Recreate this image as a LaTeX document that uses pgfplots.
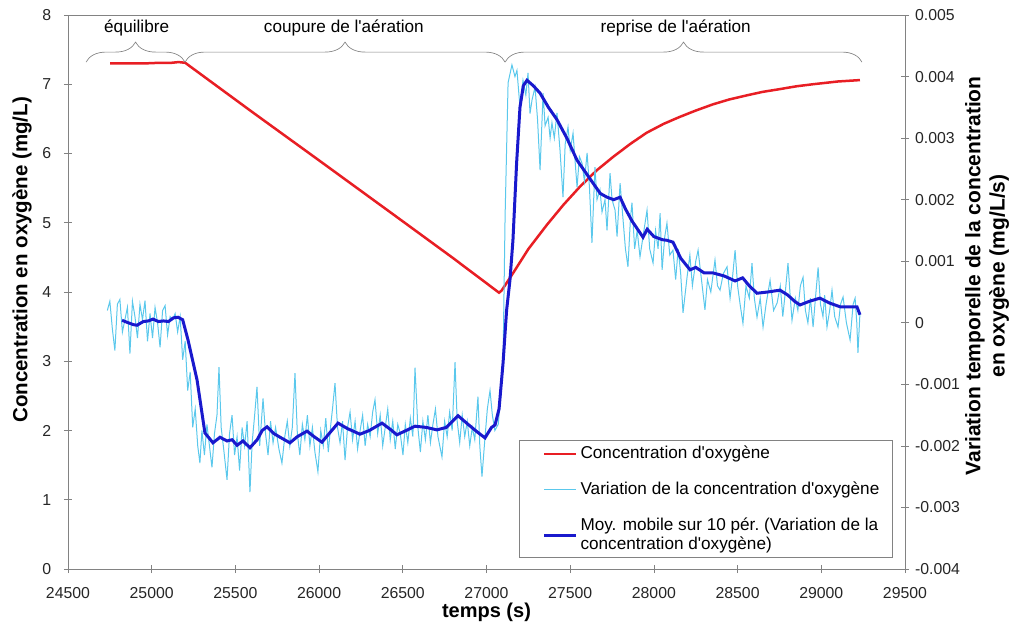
\documentclass[border=0pt]{standalone}
\usepackage{pgfplots}
\pgfplotsset{compat=1.18}
\usepackage{fontspec}
\setmainfont{Liberation Sans}
\usetikzlibrary{decorations.pathreplacing}
\definecolor{cRed}{RGB}{232,30,36}
\definecolor{cCyan}{RGB}{90,200,236}
\definecolor{cBlue}{RGB}{25,25,205}
\definecolor{cAx}{RGB}{130,130,130}
\newcommand{\ap}{\textquotesingle}
\begin{document}
\begin{tikzpicture}
\useasboundingbox (-40.8pt,-35.4pt) rectangle (567.6pt,341.4pt);
\begin{axis}[
  scale only axis, width=502.2pt, height=332.4pt, at={(0,0)}, anchor=south west,
  xmin=24500, xmax=29500, ymin=0, ymax=8,
  xtick={24500,25000,...,29500}, ytick={0,1,...,8},
  scaled x ticks=false,
  xticklabel={\pgfmathprintnumber[fixed,precision=0,1000 sep={}]{\tick}},
  axis line style={cAx}, tick style={cAx, thin}, major tick length=5pt,
  tick align=center, xtick pos=bottom, ytick pos=left,
  /pgf/number format/1000 sep={},
  /pgf/number format/assume math mode=true,
  tick label style={font=\fontsize{9.5}{11}\selectfont, text=black!85, inner ysep=1pt},
  yticklabel style={xshift=-4pt},
  xticklabel style={yshift=-7.5pt},
  every axis x label/.style={at={(axis description cs:0.5,-0.0775)}, anchor=center, font=\fontsize{12}{14}\selectfont\bfseries},
  every axis y label/.style={at={(axis description cs:-0.055,0.558)}, anchor=center, rotate=90, font=\fontsize{12.3}{14}\selectfont\bfseries},
  xlabel={temps (s)},
  ylabel={Concentration en oxygène (mg/L)},
  clip=false,
]
\addplot[cRed, line width=1.5pt] coordinates {
(24751,7.30) (24850,7.30) (24950,7.30) (25050,7.31) (25120,7.31) (25160,7.32) (25200,7.31)
(25600,6.60) (26000,5.90) (26500,5.02) (26800,4.49) (27075,3.99) (27090,4.02)
(27158,4.27) (27250,4.62) (27361,4.97) (27460,5.26) (27558,5.52) (27660,5.76) (27756,5.95)
(27860,6.14) (27957,6.30) (28060,6.43) (28156,6.53) (28250,6.62) (28353,6.71) (28450,6.78)
(28556,6.84) (28650,6.89) (28753,6.93) (28850,6.97) (28950,7.00) (29100,7.04) (29231,7.06)
};
\draw[cAx, thin, decorate, decoration={brace, amplitude=12pt}] (axis cs:24608,7.32) -- (axis cs:25199,7.32);
\draw[cAx, thin, decorate, decoration={brace, amplitude=12pt}] (axis cs:25199,7.32) -- (axis cs:27111,7.32);
\draw[cAx, thin, decorate, decoration={brace, amplitude=12pt}] (axis cs:27111,7.32) -- (axis cs:29243,7.32);
\node[font=\fontsize{10.3}{12}\selectfont] at (axis cs:24910,7.81) {équilibre};
\node[font=\fontsize{10.3}{12}\selectfont] at (axis cs:26148,7.81) {coupure de l\ap aération};
\node[font=\fontsize{10.3}{12}\selectfont] at (axis cs:28130,7.81) {reprise de l\ap aération};
\end{axis}
\begin{axis}[
  scale only axis, width=502.2pt, height=332.4pt, at={(0,0)}, anchor=south west,
  xmin=24500, xmax=29500, ymin=-0.004, ymax=0.005,
  axis x line=none, axis y line*=right,
  xtick=\empty, scaled x ticks=false, scaled y ticks=false,
  axis line style={cAx}, tick style={cAx, thin}, major tick length=5pt,
  tick align=center,
  ytick={-0.004,-0.003,-0.002,-0.001,0,0.001,0.002,0.003,0.004,0.005},
  yticklabels={-0.004,-0.003,-0.002,-0.001,0,0.001,0.002,0.003,0.004,0.005},
  tick label style={font=\fontsize{9.5}{11}\selectfont, text=black!85, inner ysep=1pt},
  every axis y label/.style={at={(axis description cs:1.098,0.529)}, anchor=center, rotate=90, align=center, font=\fontsize{12.6}{14.6}\selectfont\bfseries},
  ylabel={Variation temporelle de la concentration\\en oxygène (mg/L/s)},
  legend style={at={(0.9857,0.02)}, anchor=south east, draw=cAx, fill=white,
    font=\fontsize{10.3}{11}\selectfont, row sep=8.5pt, inner xsep=6pt, inner ysep=1.5pt,
    cells={align=left}},
  legend cell align=left,
  legend image code/.code={\path (0pt,0pt); \draw[#1] (8pt,0pt) -- (27pt,0pt);},
]
\addlegendimage{cRed, line width=1.5pt}
\addlegendentry{Concentration d\ap oxygène}
\addplot[cCyan, line width=0.6pt] coordinates {
(24735,0.00020) (24750,0.00035) (24765,-0.00010) (24780,-0.00045) (24795,0.00030) (24810,0.00038)
(24825,-0.00015) (24840,0.00005) (24855,0.00025) (24870,-0.00050) (24885,0.00035) (24900,0.00010)
(24915,-0.00025) (24930,0.00030) (24945,0.00005) (24960,0.00036) (24975,-0.00030) (24990,0.00015)
(25005,-0.00025) (25020,0.00025) (25035,0.00000) (25050,-0.00040) (25065,0.00020) (25080,0.00028)
(25095,-0.00020) (25110,0.00010) (25125,0.00005) (25140,0.00015) (25155,-0.00015) (25170,0.00010)
(25185,-0.00060) (25200,-0.00030) (25215,-0.00110) (25230,-0.00080) (25245,-0.00170) (25260,-0.00140)
(25275,-0.00200) (25288,-0.00228) (25300,-0.00175)
(25315,-0.00215) (25330,-0.00165) (25345,-0.00200) (25360,-0.00235) (25375,-0.00180) (25390,-0.00150)
(25402,-0.00072) (25415,-0.00170) (25430,-0.00205) (25450,-0.00255) (25465,-0.00180) (25480,-0.00150)
(25495,-0.00215) (25510,-0.00185) (25525,-0.00240) (25540,-0.00170) (25555,-0.00200) (25570,-0.00160)
(25587,-0.00275) (25600,-0.00195) (25615,-0.00150) (25629,-0.00104) (25645,-0.00200) (25665,-0.00123)
(25680,-0.00180) (25695,-0.00215) (25710,-0.00160) (25725,-0.00195) (25740,-0.00170) (25760,-0.00205)
(25778,-0.00228) (25795,-0.00185) (25810,-0.00160) (25825,-0.00200) (25840,-0.00170) (25856,-0.00082)
(25870,-0.00180) (25885,-0.00215) (25900,-0.00165) (25915,-0.00190) (25930,-0.00150) (25945,-0.00200)
(25960,-0.00170) (25975,-0.00210) (25993,-0.00242) (26010,-0.00175) (26025,-0.00200) (26040,-0.00155)
(26055,-0.00210) (26070,-0.00165) (26080,-0.00140) (26095,-0.00098) (26110,-0.00170) (26125,-0.00195)
(26140,-0.00160) (26155,-0.00223) (26170,-0.00170) (26185,-0.00145) (26200,-0.00190) (26215,-0.00160)
(26230,-0.00205) (26245,-0.00175) (26260,-0.00150) (26275,-0.00200) (26290,-0.00165) (26305,-0.00185)
(26320,-0.00145) (26334,-0.00125) (26350,-0.00180) (26365,-0.00150) (26380,-0.00200) (26395,-0.00170)
(26410,-0.00140) (26425,-0.00190) (26440,-0.00160) (26455,-0.00205) (26470,-0.00165) (26485,-0.00180)
(26501,-0.00215) (26515,-0.00165) (26530,-0.00195) (26545,-0.00155) (26560,-0.00185) (26573,-0.00073)
(26590,-0.00170) (26605,-0.00210) (26620,-0.00160) (26635,-0.00190) (26650,-0.00150) (26665,-0.00195)
(26680,-0.00165) (26695,-0.00140) (26710,-0.00185) (26734,-0.00218) (26750,-0.00160) (26765,-0.00185)
(26780,-0.00145) (26795,-0.00175) (26812,-0.00064) (26825,-0.00160) (26840,-0.00195) (26855,-0.00150)
(26870,-0.00185) (26885,-0.00160) (26900,-0.00200) (26915,-0.00170) (26930,-0.00190) (26949,-0.00120)
(26960,-0.00200) (26973,-0.00250) (26990,-0.00190) (27005,-0.00140) (27021,-0.00110) (27035,-0.00150)
(27050,-0.00175) (27070,-0.00165) (27085,-0.00120) (27099,-0.00061) (27111,0.00172) (27129,0.00390)
(27152,0.00419) (27170,0.00400) (27182,0.00410) (27200,0.00350) (27218,0.00394) (27235,0.00370)
(27248,0.00406) (27260,0.00340) (27272,0.00362) (27290,0.00383) (27305,0.00330) (27320,0.00248)
(27338,0.00373) (27350,0.00320) (27368,0.00334) (27380,0.00300) (27391,0.00325) (27405,0.00300)
(27421,0.00341) (27439,0.00281) (27457,0.00204) (27470,0.00290) (27487,0.00318) (27500,0.00280)
(27517,0.00308) (27530,0.00260) (27541,0.00220) (27555,0.00270) (27571,0.00259) (27585,0.00230)
(27601,0.00276) (27615,0.00220) (27630,0.00130) (27648,0.00253) (27660,0.00200) (27678,0.00216)
(27690,0.00180) (27708,0.00200) (27720,0.00150) (27738,0.00243) (27750,0.00200) (27768,0.00183)
(27780,0.00140) (27798,0.00227) (27815,0.00170) (27830,0.00120) (27845,0.00091) (27860,0.00170)
(27869,0.00195) (27885,0.00120) (27900,0.00150) (27917,0.00107) (27935,0.00140) (27959,0.00183)
(27975,0.00120) (27995,0.00097) (28010,0.00150) (28025,0.00120) (28037,0.00178) (28049,0.00086)
(28065,0.00140) (28078,0.00162) (28095,0.00110) (28114,0.00118) (28130,0.00070) (28145,0.00120)
(28160,0.00080) (28174,0.00016) (28198,0.00074) (28215,0.00110) (28230,0.00060) (28250,0.00100)
(28264,0.00118) (28280,0.00080) (28305,0.00021) (28320,0.00070) (28340,0.00050) (28365,0.00102)
(28380,0.00060) (28395,0.00053) (28415,0.00080) (28437,0.00091) (28455,0.00040) (28470,0.00075)
(28485,0.00118) (28500,0.00060) (28515,0.00030) (28532,-0.00001) (28550,0.00060) (28570,0.00040)
(28586,0.00097) (28600,0.00040) (28616,0.00009) (28635,0.00040) (28652,-0.00007) (28670,0.00030)
(28694,0.00069) (28715,0.00020) (28736,0.00032) (28755,0.00060) (28770,0.00010) (28785,0.00050)
(28801,0.00097) (28815,0.00040) (28825,0.00004) (28845,0.00040) (28860,0.00020) (28875,0.00060)
(28891,0.00074) (28905,0.00020) (28920,0.00000) (28935,0.00040) (28951,-0.00007) (28965,0.00040)
(28981,0.00090) (28995,0.00030) (29010,0.00010) (29020,0.00045) (29034,-0.00007) (29050,0.00020)
(29064,0.00053) (29080,0.00010) (29100,-0.00007) (29115,0.00030) (29130,0.00042) (29150,0.00000)
(29172,-0.00028) (29190,0.00030) (29202,0.00040) (29212,0.00000) (29219,-0.00049) (29231,0.00016)
};
\addlegendentry{Variation de la concentration d\ap oxygène}
\addplot[cBlue, line width=1.8pt] coordinates {
(24823,0.00004) (24860,0.00000) (24890,-0.00003) (24912,-0.00004) (24950,0.00002) (24980,0.00003)
(25008,0.00006) (25040,0.00002) (25070,0.00003) (25100,0.00002) (25130,0.00008) (25157,0.00009)
(25185,0.00005) (25217,-0.00028) (25271,-0.00093) (25318,-0.00179) (25366,-0.00195) (25408,-0.00186)
(25450,-0.00192) (25480,-0.00190) (25510,-0.00199) (25545,-0.00192) (25587,-0.00203) (25630,-0.00190)
(25660,-0.00175) (25689,-0.00169) (25730,-0.00180) (25767,-0.00186) (25826,-0.00195) (25870,-0.00185)
(25928,-0.00176) (25970,-0.00185) (26017,-0.00194) (26060,-0.00180) (26113,-0.00163) (26170,-0.00172)
(26244,-0.00181) (26300,-0.00175) (26376,-0.00163) (26420,-0.00172) (26465,-0.00182) (26520,-0.00175)
(26573,-0.00168) (26640,-0.00170) (26704,-0.00174) (26760,-0.00170) (26830,-0.00151) (26890,-0.00165)
(26943,-0.00177) (26991,-0.00187) (27030,-0.00170) (27051,-0.00166) (27075,-0.00140) (27099,-0.00065)
(27120,0.00020) (27140,0.00069) (27158,0.00134) (27180,0.00260) (27200,0.00350) (27220,0.00385)
(27242,0.00394) (27280,0.00385) (27320,0.00373) (27370,0.00350) (27421,0.00330) (27480,0.00300)
(27541,0.00264) (27590,0.00245) (27636,0.00227) (27680,0.00210) (27720,0.00204) (27760,0.00200)
(27798,0.00204) (27830,0.00185) (27870,0.00165) (27935,0.00139) (27960,0.00152) (28000,0.00140)
(28050,0.00135) (28078,0.00134) (28114,0.00131) (28160,0.00105) (28216,0.00086) (28250,0.00090)
(28300,0.00081) (28353,0.00081) (28420,0.00076) (28485,0.00068) (28530,0.00073) (28570,0.00060)
(28616,0.00048) (28680,0.00050) (28753,0.00053) (28800,0.00045) (28840,0.00035) (28873,0.00029)
(28930,0.00035) (28992,0.00040) (29050,0.00032) (29112,0.00026) (29160,0.00026) (29213,0.00026)
(29231,0.00013)
};
\addlegendentry{Moy. mobile sur 10 pér.\ (Variation de la\\concentration d\ap oxygène)}
\end{axis}
\end{tikzpicture}
\end{document}
